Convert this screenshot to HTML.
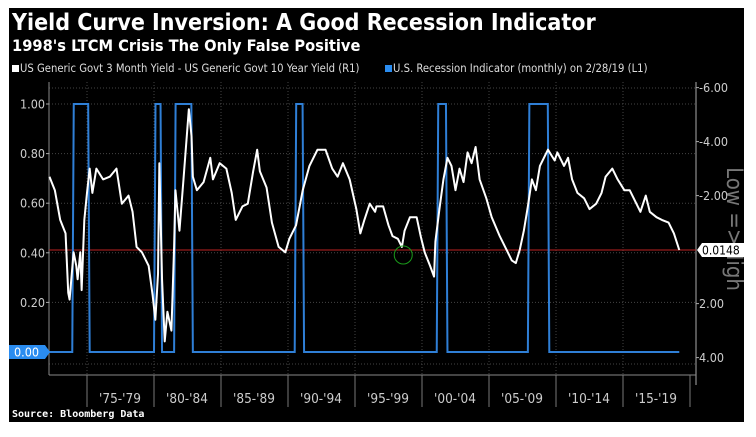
<!DOCTYPE html>
<html><head><meta charset="utf-8"><style>
html,body{margin:0;padding:0;background:#fff;}
body{width:756px;height:437px;position:relative;overflow:hidden;font-family:"Liberation Sans",sans-serif;}
</style></head><body>
<svg id="chart" width="756" height="437" xmlns="http://www.w3.org/2000/svg" style="position:absolute;left:0;top:0">
<rect x="9" y="8" width="735" height="414" fill="#000"/>
<text x="12" y="30" fill="#fff" font-size="23" font-weight="bold" font-family="'DejaVu Sans Condensed','Liberation Sans',sans-serif">Yield Curve Inversion: A Good Recession Indicator</text>
<text x="12" y="51" fill="#fff" font-size="16.3" font-weight="bold" font-family="'DejaVu Sans Condensed','Liberation Sans',sans-serif">1998's LTCM Crisis The Only False Positive</text>
<g>
<rect x="12" y="65" width="7" height="7" fill="#fff"/>
<text x="20" y="72" fill="#ddd" font-size="11.2" font-family="'DejaVu Sans Condensed','Liberation Sans',sans-serif">US Generic Govt 3 Month Yield - US Generic Govt 10 Year Yield (R1)</text>
<rect x="385" y="65" width="7" height="7" fill="#2a8cf0"/>
<text x="393" y="72" fill="#ddd" font-size="11.2" font-family="'DejaVu Sans Condensed','Liberation Sans',sans-serif">U.S. Recession Indicator (monthly)  on 2/28/19 (L1)</text>
</g>
<text transform="translate(727,229) rotate(90)" text-anchor="middle" fill="#777" font-size="22" font-family="'DejaVu Sans Condensed','Liberation Sans',sans-serif">Low =&gt;High</text>
<g id="grid"></g>
<g id="axes"></g>
<g id="marks"></g>
<text x="12" y="417" fill="#fff" font-size="10" font-weight="bold" font-family="'DejaVu Sans Mono','Liberation Mono',monospace">Source: Bloomberg Data</text>
</svg>
<script>
const spreadYears=[1972.2,1972.6,1973.0,1973.4,1973.6,1973.7,1974.0,1974.2,1974.3,1974.5,1974.6,1974.8,1975.0,1975.2,1975.4,1975.7,1976.2,1976.7,1977.2,1977.6,1978.1,1978.4,1978.7,1979.1,1979.6,1979.9,1980.1,1980.3,1980.4,1980.6,1980.8,1981.0,1981.3,1981.5,1981.6,1981.9,1982.2,1982.6,1982.8,1982.9,1983.2,1983.7,1984.2,1984.4,1984.9,1985.4,1985.8,1986.1,1986.6,1987.0,1987.4,1987.7,1987.9,1988.4,1988.8,1989.3,1989.8,1990.1,1990.6,1991.1,1991.6,1992.2,1992.8,1993.3,1993.7,1994.1,1994.6,1995.1,1995.4,1995.7,1996.1,1996.5,1996.6,1997.1,1997.5,1997.8,1998.2,1998.5,1998.7,1999.1,1999.6,1999.9,2000.2,2000.6,2000.9,2001.0,2001.3,2001.6,2001.9,2002.2,2002.5,2002.8,2003.1,2003.4,2003.7,2004.0,2004.3,2004.8,2005.2,2005.8,2006.3,2006.7,2007.0,2007.3,2007.6,2007.9,2008.2,2008.5,2008.8,2009.1,2009.4,2009.9,2010.1,2010.6,2010.9,2011.2,2011.6,2012.1,2012.5,2013.0,2013.4,2013.7,2014.2,2014.6,2015.1,2015.5,2016.0,2016.3,2016.7,2017.0,2017.5,2017.9,2018.4,2018.8,2019.2];
const spreadValues=[-2.7,-2.2,-1.1,-0.6,1.6,1.85,0.1,0.6,1.1,0.1,1.5,-1.1,-2.1,-3.0,-2.1,-3.0,-2.6,-2.7,-3.0,-1.7,-2.0,-1.4,-0.1,0.1,0.6,1.7,2.6,0.9,-3.2,1.1,3.4,2.3,3.0,-0.1,-2.2,-0.7,-2.6,-5.2,-4.2,-2.7,-2.2,-2.5,-3.4,-2.6,-3.2,-3.0,-2.1,-1.1,-1.6,-1.7,-2.9,-3.7,-2.9,-2.3,-1.0,-0.1,0.1,-0.4,-0.9,-2.2,-3.1,-3.7,-3.7,-3.0,-2.7,-3.2,-2.6,-1.5,-0.6,-1.1,-1.7,-1.4,-1.6,-1.6,-0.9,-0.5,-0.4,-0.1,-0.7,-1.2,-1.2,-0.5,0.1,0.6,1.0,-0.3,-1.5,-2.6,-3.4,-3.1,-2.2,-3.0,-2.5,-3.6,-3.2,-3.8,-2.6,-1.9,-1.2,-0.5,0,0.4,0.5,0,-0.7,-1.6,-2.6,-2.2,-3.1,-3.4,-3.7,-3.3,-3.6,-3.1,-3.4,-2.6,-2.1,-1.9,-1.5,-1.7,-2.1,-2.7,-3.0,-2.6,-2.2,-2.2,-1.7,-1.4,-2.0,-1.4,-1.2,-1.1,-1.0,-0.6,0.0148];
const recessionStarts=[1973.9,1980.0,1981.5,1990.5,2001.1,2007.9];
const recessionEnds=[1975.2,1980.6,1982.9,1991.2,2001.9,2009.5];
const leftTicks=[0.2,0.4,0.6,0.8,1.0];
const leftTickLabels=["0.20","0.40","0.60","0.80","1.00"];
const rightTicks=[-6,-4,-2,2,4];
const rightTickLabels=["-6.00","-4.00","-2.00","2.00","4.00"];
const periodStarts=[1975,1980,1985,1990,1995,2000,2005,2010,2015];
const periodLabels=["'75-'79","'80-'84","'85-'89","'90-'94","'95-'99","'00-'04","'05-'09","'10-'14","'15-'19"];
const lastValue=0.0148;
const xMin=1972.2,xMax=2019.2;

const NS="http://www.w3.org/2000/svg";
const PL=49,PR=696,PB=375,PT=82;
const FF="'DejaVu Sans Condensed','Liberation Sans',sans-serif";
function x(yr){return 87+(yr-1975)*13.4;}
function yL(v){return 352-v*248;}
function yR(v){return 250+(v-lastValue)*27;}
function mk(tag,attrs,parent){const e=document.createElementNS(NS,tag);for(const k in attrs)e.setAttribute(k,attrs[k]);parent.appendChild(e);return e;}
const grid=document.getElementById('grid'),axes=document.getElementById('axes'),marks=document.getElementById('marks');

leftTicks.forEach(v=>{
  const l=mk('line',{x1:PL,x2:PR,y1:yL(v),y2:yL(v),stroke:'#444','stroke-dasharray':'1,2','stroke-width':1},grid);
  
  
});
[88,364].forEach(yy=>{
  const l=mk('line',{x1:PL,x2:PR,y1:yy,y2:yy,stroke:'#444','stroke-dasharray':'1,2'},grid);
  
  
});
periodStarts.forEach(p=>{
  const l=mk('line',{x1:x(p),x2:x(p),y1:PT,y2:PB,stroke:'#444','stroke-dasharray':'1,2'},grid);
  
  
});
let a=mk('line',{x1:PL,x2:PL,y1:PT,y2:PB,stroke:'#888'},axes);


a=mk('line',{x1:PR,x2:PR,y1:PT,y2:PB+10,stroke:'#aaa'},axes);


a=mk('line',{x1:PL,x2:PR,y1:PB,y2:PB,stroke:'#888'},axes);


leftTicks.forEach((v,i)=>{
  mk('line',{x1:PL-3,x2:PL,y1:yL(v),y2:yL(v),stroke:'#aaa'},axes);
  const t=mk('text',{x:PL-4,y:yL(v)+4.5,'text-anchor':'end',fill:'#ccc','font-size':12.5,'font-family':FF},axes);
  t.textContent=leftTickLabels[i];
  
  
});
rightTicks.forEach((v,i)=>{
  mk('line',{x1:PR,x2:PR+3,y1:yR(v),y2:yR(v),stroke:'#aaa'},axes);
  const t=mk('text',{x:PR+3,y:yR(v)+4.5,fill:'#ccc','font-size':12.5,'font-family':FF},axes);
  t.textContent=rightTickLabels[i];
  
  
});
periodStarts.forEach((p,i)=>{
  mk('line',{x1:x(p),x2:x(p),y1:PB,y2:PB+32,stroke:'#777'},axes);
  const t=mk('text',{x:x(p)+33,y:PB+28,'text-anchor':'middle',fill:'#ccc','font-size':13.5,'font-family':FF},axes);
  t.textContent=periodLabels[i];
  
  
});
mk('line',{x1:x(2020),x2:x(2020),y1:PB,y2:PB+32,stroke:'#777'},axes);

let r=mk('line',{x1:PL,x2:PR,y1:yR(lastValue),y2:yR(lastValue),stroke:'#b22',"stroke-width":1},marks);



let pts=[[x(xMin),yL(0)]];
recessionStarts.forEach((s,i)=>{pts.push([x(s),yL(0)],[x(s)+1.5,yL(1)],[x(recessionEnds[i])-1.5,yL(1)],[x(recessionEnds[i]),yL(0)]);});
pts.push([x(xMax),yL(0)]);
let rec=mk('polyline',{points:pts.map(p=>p.join(',')).join(' '),fill:'none',stroke:'#2f7fd6','stroke-width':2},marks);



let sp=mk('polyline',{points:spreadYears.map((yr,i)=>x(yr)+','+yR(spreadValues[i])).join(' '),fill:'none',stroke:'#fff','stroke-width':2,'stroke-linejoin':'round'},marks);



let c=mk('circle',{cx:x(1998.6),cy:yR(0.2),r:9,fill:'none',stroke:'#1a9a1a','stroke-width':1},marks);



let lb=mk('path',{d:`M9,${yL(0)-7} H45 L50,${yL(0)} L45,${yL(0)+7} H9 Z`,fill:'#2a8cf0'},marks);


let lt=mk('text',{x:14,y:yL(0)+4.5,fill:'#fff','font-size':12.5,'font-family':FF},marks);
lt.textContent='0.00';


const ry=yR(lastValue);
let rb=mk('path',{d:`M697,${ry} L702,${ry-7} H744 V${ry+7} H702 Z`,fill:'#fff'},marks);


let rt=mk('text',{x:702,y:ry+4.5,fill:'#000','font-size':12,'font-family':FF},marks);
rt.textContent=lastValue.toFixed(4);


</script>
</body></html>
